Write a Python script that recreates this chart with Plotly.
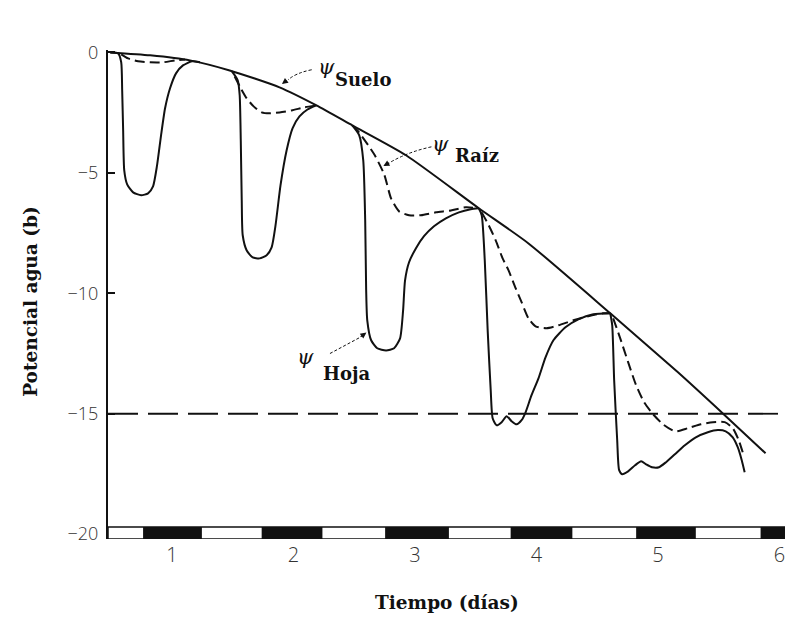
import plotly.graph_objects as go

# ---- data: water potential (bar) over time (days) ----
soil_t = [0.492, 0.820, 1.148, 1.475, 1.885, 2.189, 2.484, 2.926, 3.525,
          3.934, 4.607, 5.164, 5.549, 5.885]
soil_psi = [0.0, -0.12, -0.33, -0.75, -1.45, -2.20, -3.03, -4.27, -6.47,
            -7.93, -10.83, -13.28, -15.06, -16.64]

# leaf potential, one sub-list per daily cycle
leaf_t = [
    [0.492, 0.557, 0.582, 0.590, 0.598, 0.607, 0.631, 0.680, 0.746, 0.803, 0.844,
     0.877, 0.910, 0.943, 0.984, 1.033, 1.090, 1.164, 1.230],
    [1.492, 1.541, 1.557, 1.566, 1.574, 1.582, 1.615, 1.664, 1.721, 1.779, 1.820,
     1.852, 1.893, 1.943, 1.992, 2.049, 2.115, 2.189],
    [2.484, 2.541, 2.574, 2.590, 2.598, 2.607, 2.639, 2.689, 2.762, 2.828, 2.877,
     2.902, 2.918, 2.951, 3.008, 3.074, 3.156, 3.254, 3.361, 3.459, 3.525],
    [3.525, 3.549, 3.574, 3.598, 3.623, 3.639, 3.672, 3.713, 3.754, 3.795, 3.836,
     3.877, 3.910, 3.959, 4.016, 4.074, 4.139, 4.238, 4.344, 4.467, 4.607],
    [4.607, 4.623, 4.639, 4.664, 4.680, 4.705, 4.754, 4.811, 4.861, 4.902, 4.951,
     5.008, 5.066, 5.139, 5.221, 5.311, 5.410, 5.492, 5.557, 5.615, 5.656, 5.689, 5.713],
]
leaf_psi = [
    [0.0, -0.04, -0.41, -1.58, -3.24, -4.90, -5.48, -5.81, -5.93, -5.85, -5.56,
     -4.69, -3.44, -2.32, -1.49, -0.87, -0.54, -0.37, -0.41],
    [-0.78, -1.16, -1.78, -3.65, -6.14, -7.59, -8.22, -8.51, -8.55, -8.42, -8.09,
     -7.18, -5.52, -4.07, -3.15, -2.66, -2.37, -2.20],
    [-3.03, -3.44, -4.48, -6.97, -9.88, -11.12, -11.95, -12.28, -12.37, -12.28, -11.87,
     -10.71, -9.46, -8.71, -8.13, -7.63, -7.22, -6.89, -6.64, -6.51, -6.47],
    [-6.47, -6.76, -8.63, -11.54, -14.02, -15.19, -15.48, -15.35, -15.10, -15.31, -15.44,
     -15.27, -14.94, -14.23, -13.53, -12.66, -11.95, -11.41, -11.08, -10.87, -10.83],
    [-10.83, -11.33, -13.61, -16.10, -17.34, -17.51, -17.39, -17.14, -16.97, -17.10, -17.22,
     -17.22, -17.01, -16.68, -16.31, -15.98, -15.77, -15.68, -15.73, -15.98, -16.39, -16.93, -17.43],
]

# root potential, one sub-list per daily cycle
root_t = [
    [0.582, 0.639, 0.721, 0.820, 0.926, 1.025, 1.107],
    [1.516, 1.566, 1.615, 1.672, 1.738, 1.803, 1.885, 1.984, 2.090, 2.189],
    [2.484, 2.533, 2.664, 2.746, 2.803, 2.869, 2.951, 3.049, 3.172, 3.295, 3.418, 3.525],
    [3.549, 3.607, 3.664, 3.721, 3.770, 3.828, 3.877, 3.934, 3.992, 4.082, 4.180,
     4.303, 4.426, 4.549, 4.607],
    [4.631, 4.689, 4.754, 4.820, 4.885, 4.959, 5.041, 5.139, 5.246, 5.352, 5.451,
     5.549, 5.615, 5.664, 5.697],
]
root_psi = [
    [-0.08, -0.25, -0.37, -0.41, -0.41, -0.33, -0.29],
    [-1.00, -1.49, -1.91, -2.24, -2.49, -2.53, -2.49, -2.41, -2.28, -2.20],
    [-3.03, -3.28, -4.23, -5.06, -6.06, -6.60, -6.76, -6.76, -6.64, -6.56, -6.43, -6.47],
    [-6.64, -7.18, -7.80, -8.55, -9.05, -9.79, -10.37, -11.04, -11.37, -11.45, -11.33,
     -11.12, -10.95, -10.83, -10.83],
    [-11.04, -11.87, -12.86, -13.82, -14.52, -15.02, -15.44, -15.73, -15.60, -15.44, -15.35,
     -15.35, -15.60, -16.10, -16.60],
]

wilting_psi = -15
night_start = [0.762, 1.738, 2.754, 3.787, 4.820, 5.844]
night_end = [1.246, 2.238, 3.279, 4.295, 5.311, 6.33]

x_ticks = [1, 2, 3, 4, 5, 6]
y_ticks = [0, -5, -10, -15, -20]
y_ticktext = ["0", "\u22125", "\u221210", "\u221215", "\u221220"]

X_MIN, X_MAX = 0.4733, 6.045
Y_MIN, Y_MAX = -20.2, 0.1
BAR_TOP, BAR_BOTTOM = -19.7, -20.2


def joined(groups):
    out = []
    for g in groups:
        out.extend(g)
        out.append(None)
    return out[:-1]


INK = "#111111"
SERIF = "DejaVu Serif"

fig = go.Figure()

fig.add_trace(go.Scatter(
    x=soil_t, y=soil_psi, mode="lines",
    line=dict(color=INK, width=2, shape="spline", smoothing=0.6),
    hoverinfo="skip", showlegend=False))

fig.add_trace(go.Scatter(
    x=joined(root_t), y=joined(root_psi), mode="lines",
    line=dict(color=INK, width=2, dash="10px,5px", shape="spline", smoothing=0.6),
    hoverinfo="skip", showlegend=False))

fig.add_trace(go.Scatter(
    x=joined(leaf_t), y=joined(leaf_psi), mode="lines",
    line=dict(color=INK, width=2, shape="spline", smoothing=0.6),
    hoverinfo="skip", showlegend=False))

shapes = [
    # wilting threshold
    dict(type="line", xref="paper", x0=0, x1=1, yref="y", y0=wilting_psi, y1=wilting_psi,
         line=dict(color=INK, width=1.8, dash="30px,10px")),
    # day / night strip
    dict(type="rect", xref="x", x0=X_MIN, x1=X_MAX, yref="y", y0=BAR_BOTTOM, y1=BAR_TOP,
         line=dict(color=INK, width=1.5), fillcolor="white"),
]
for s, e in zip(night_start, night_end):
    shapes.append(dict(type="rect", xref="x", x0=s, x1=min(e, X_MAX), yref="y",
                       y0=BAR_BOTTOM, y1=BAR_TOP, line=dict(width=0), fillcolor=INK))

# dashed pointer lines for the labels
shapes.append(dict(type="path", xref="x", yref="y",
                   path="M 2.150 -0.72 Q 2.02 -0.85 1.955 -1.14",
                   line=dict(color=INK, width=1, dash="3px,2px")))
shapes.append(dict(type="path", xref="x", yref="y",
                   path="M 3.135 -3.92 Q 2.95 -4.12 2.800 -4.55",
                   line=dict(color=INK, width=1, dash="3px,2px")))
shapes.append(dict(type="path", xref="x", yref="y",
                   path="M 2.300 -12.50 L 2.540 -11.85",
                   line=dict(color=INK, width=1, dash="3px,2px")))

PSI_FONT = dict(family=SERIF, size=21, color=INK, style="italic")
LABEL_FONT = dict(family=SERIF, size=18, color=INK)

annotations = [
    # arrow heads
    dict(x=1.905, y=-1.31, xref="x", yref="y", ax=1.955, ay=-1.12, axref="x", ayref="y",
         text="", showarrow=True, arrowhead=2, arrowsize=1, arrowwidth=1.2, arrowcolor=INK),
    dict(x=2.740, y=-4.72, xref="x", yref="y", ax=2.800, ay=-4.55, axref="x", ayref="y",
         text="", showarrow=True, arrowhead=2, arrowsize=1, arrowwidth=1.2, arrowcolor=INK),
    dict(x=2.600, y=-11.63, xref="x", yref="y", ax=2.540, ay=-11.85, axref="x", ayref="y",
         text="", showarrow=True, arrowhead=2, arrowsize=1, arrowwidth=1.2, arrowcolor=INK),
    # curve labels
    dict(x=2.270, y=-0.62, xref="x", yref="y", text="\u03c8", showarrow=False, font=PSI_FONT),
    dict(x=2.574, y=-1.12, xref="x", yref="y", text="<b>Suelo</b>", showarrow=False,
         font=LABEL_FONT),
    dict(x=3.212, y=-3.82, xref="x", yref="y", text="\u03c8", showarrow=False, font=PSI_FONT),
    dict(x=3.508, y=-4.27, xref="x", yref="y", text="<b>Ra\u00edz</b>", showarrow=False,
         font=LABEL_FONT),
    dict(x=2.100, y=-12.66, xref="x", yref="y", text="\u03c8", showarrow=False, font=PSI_FONT),
    dict(x=2.443, y=-13.32, xref="x", yref="y", text="<b>Hoja</b>", showarrow=False,
         font=LABEL_FONT),
    # axis titles
    dict(x=0.5, y=-0.13, xref="paper", yref="paper", xanchor="center", yanchor="middle",
         text="<b>Tiempo (d\u00edas)</b>", showarrow=False,
         font=dict(family=SERIF, size=18.5, color=INK)),
    dict(x=(31 - 108) / 677, y=0.485, xref="paper", yref="paper", xanchor="center",
         yanchor="middle", textangle=-90, text="<b>Potencial agua (b)</b>", showarrow=False,
         font=dict(family=SERIF, size=18.5, color=INK)),
]

fig.update_layout(
    width=785, height=617,
    margin=dict(l=108, r=0, t=50, b=78, pad=0),
    paper_bgcolor="white", plot_bgcolor="white",
    shapes=shapes, annotations=annotations,
    xaxis=dict(range=[X_MIN, X_MAX], tickvals=x_ticks, ticktext=[str(v) for v in x_ticks],
               showgrid=False, zeroline=False, showline=False, ticks="",
               tickfont=dict(family="Open Sans", size=20, color="#333333", weight=300),
               ticklabelstandoff=2, ticklabeloverflow="allow"),
    yaxis=dict(range=[Y_MIN, Y_MAX], tickvals=y_ticks, ticktext=y_ticktext,
               showgrid=False, zeroline=False, showline=True, linecolor=INK, linewidth=2,
               ticks="inside", ticklen=7, tickwidth=2, tickcolor=INK,
               tickfont=dict(family="Open Sans", size=18, color="#333333", weight=300),
               ticklabelstandoff=4),
)

fig.write_html("out.html")
